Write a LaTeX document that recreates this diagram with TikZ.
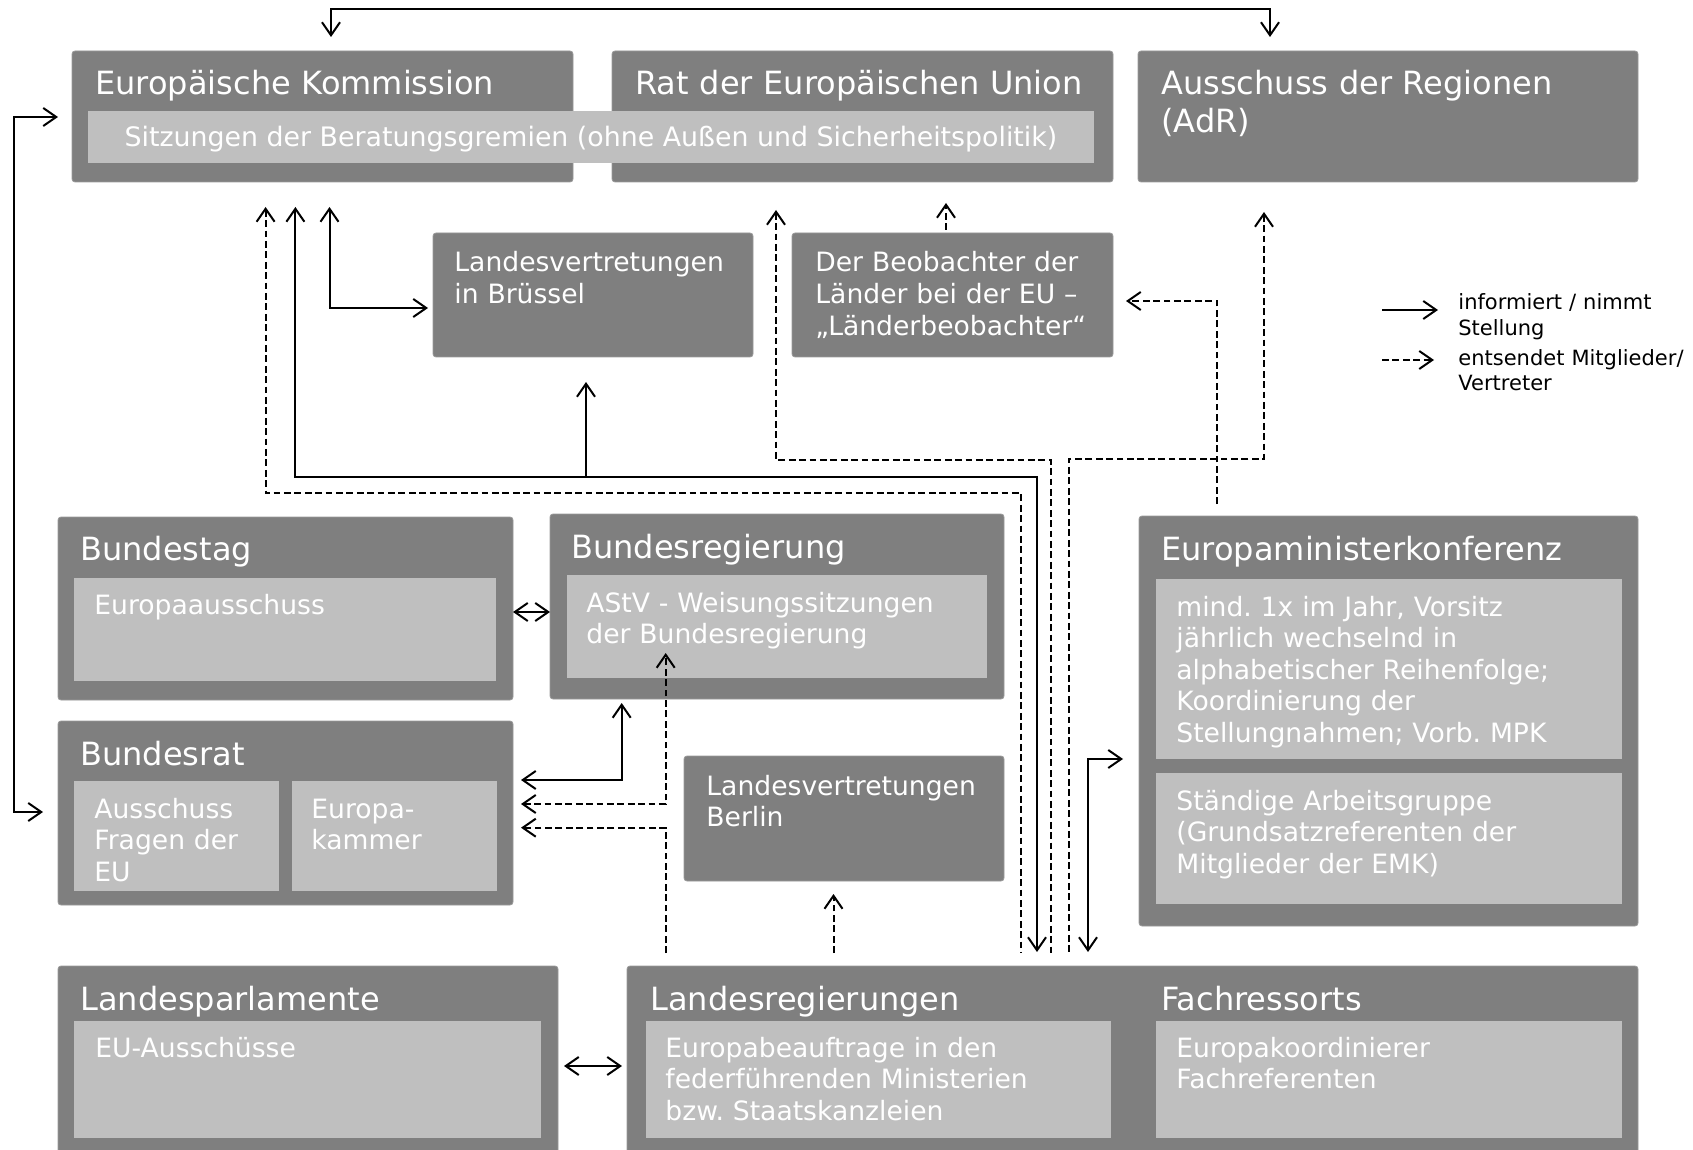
\documentclass[tikz,border=0pt]{standalone}
\usepackage{fontspec}
\setmainfont{DejaVu Sans}
\usetikzlibrary{arrows.meta}
\definecolor{boxdark}{RGB}{127,127,127}
\definecolor{boxlight}{RGB}{191,191,191}
\frenchspacing
\begin{document}
\begin{tikzpicture}[x=0.5pt,y=-0.5pt,
  dbox/.style={fill=boxdark, draw=boxdark!80!white, line width=0.4pt, rounded corners=1.5pt, anchor=north west, inner sep=0pt, outer sep=0pt},
  lbox/.style={fill=boxlight, anchor=north west, inner sep=0pt, outer sep=0pt},
  ttl/.style={anchor=base west, inner sep=0pt, text=white, align=left, text width=300pt, font=\fontsize{16}{18.9}\selectfont},
  txt/.style={anchor=base west, inner sep=0pt, text=white, align=left, text width=240pt, font=\fontsize{13.3}{15.8}\selectfont},
  lgd/.style={anchor=base west, inner sep=0pt, text=black, align=left, text width=120pt, font=\fontsize{10.5}{13}\selectfont},
  tip/.style={line width=1pt},
  one/.style={tip, -{Straight Barb[length=6.5pt,width=9pt]}},
  back/.style={tip, {Straight Barb[length=6.5pt,width=9pt]}-},
  both/.style={tip, {Straight Barb[length=6.5pt,width=9pt]}-{Straight Barb[length=6.5pt,width=9pt]}},
  dsh/.style={dash pattern=on 3.4pt off 1.8pt}
]
\useasboundingbox (0,0) rectangle (1693,1150);

% ---------- boxes ----------
\node[dbox, minimum width=250.5pt, minimum height=65.5pt] (ek) at (72,51) {};
\node[dbox, minimum width=250.5pt, minimum height=65.5pt] (rat) at (612,51) {};
\node[dbox, minimum width=250pt, minimum height=65.5pt] (adr) at (1138,51) {};
\node[lbox, minimum width=503pt, minimum height=26pt] (sitz) at (88,111) {};

\node[dbox, minimum width=160pt, minimum height=62pt] (lvb) at (433,233) {};
\node[dbox, minimum width=160.5pt, minimum height=62pt] (beob) at (792,233) {};

\node[dbox, minimum width=227.5pt, minimum height=91.5pt] (bt) at (58,517) {};
\node[lbox, minimum width=211pt, minimum height=51.5pt] (eua) at (74,578) {};
\node[dbox, minimum width=227pt, minimum height=92.5pt] (breg) at (550,514) {};
\node[lbox, minimum width=210pt, minimum height=51.5pt] (astv) at (567,575) {};

\node[dbox, minimum width=227.5pt, minimum height=92pt] (br) at (58,721) {};
\node[lbox, minimum width=102.5pt, minimum height=55pt] (afe) at (74,781) {};
\node[lbox, minimum width=102.5pt, minimum height=55pt] (ek2) at (292,781) {};

\node[dbox, minimum width=160pt, minimum height=62.5pt] (lvber) at (684,756) {};

\node[dbox, minimum width=249.5pt, minimum height=205pt] (emk) at (1139,516) {};
\node[lbox, minimum width=233pt, minimum height=90pt] (emk1) at (1156,579) {};
\node[lbox, minimum width=233pt, minimum height=65.5pt] (emk2) at (1156,773) {};

\node[dbox, minimum width=250pt, minimum height=95pt] (lp) at (58,966) {};
\node[lbox, minimum width=233.5pt, minimum height=58.5pt] (lpi) at (74,1021) {};
\node[dbox, minimum width=505.5pt, minimum height=95pt] (lr) at (627,966) {};
\node[lbox, minimum width=232.5pt, minimum height=58.5pt] (lri) at (646,1021) {};
\node[lbox, minimum width=233pt, minimum height=58.5pt] (fri) at (1156,1021) {};

% ---------- texts ----------
\node[ttl] (t1) at (95,95) {Europäische Kommission};
\node[ttl] (t2) at (635,95) {Rat der Europäischen Union};
\node[ttl] (t3) at (1161,95) {Ausschuss der Regionen\\(AdR)};
\node[anchor=base, inner sep=0pt, text=white, font=\fontsize{13.4}{15.8}\selectfont] (t4) at (591,147) {Sitzungen der Beratungsgremien (ohne Außen und Sicherheitspolitik)};
\node[txt] (t5) at (454,272) {Landesvertretungen\\in Brüssel};
\node[txt] (t6) at (815,272) {Der Beobachter der\\Länder bei der EU –\\„Länderbeobachter“};
\node[ttl] (t7) at (80,560) {Bundestag};
\node[txt] (t8) at (94,614) {Europaausschuss};
\node[ttl] (t9) at (571,558) {Bundesregierung};
\node[txt] (t10) at (586,612) {AStV - Weisungssitzungen\\der Bundesregierung};
\node[ttl] (t11) at (80,765) {Bundesrat};
\node[txt] (t12) at (94,818) {Ausschuss\\Fragen der\\EU};
\node[txt] (t13) at (311,818) {Europa-\\kammer};
\node[txt] (t14) at (706,795) {Landesvertretungen\\Berlin};
\node[ttl] (t15) at (1161,560) {Europaministerkonferenz};
\node[txt] (t16) at (1176,616) {mind. 1x im Jahr, Vorsitz\\jährlich wechselnd in\\alphabetischer Reihenfolge;\\Koordinierung der\\Stellungnahmen; Vorb. MPK};
\node[txt] (t17) at (1176,810) {Ständige Arbeitsgruppe\\(Grundsatzreferenten der\\Mitglieder der EMK)};
\node[ttl] (t18) at (80,1010) {Landesparlamente};
\node[txt] (t19) at (95,1057) {EU-Ausschüsse};
\node[ttl] (t20) at (650,1010) {Landesregierungen};
\node[txt] (t21) at (665,1057) {Europabeauftrage in den\\federführenden Ministerien\\bzw. Staatskanzleien};
\node[ttl] (t22) at (1161,1010) {Fachressorts};
\node[txt] (t23) at (1176,1057) {Europakoordinierer\\Fachreferenten};

% ---------- connectors ----------
% EK <-> AdR over the top
\draw[both] ([shift={(259,-14)}]ek.north west) -- ++(0,-28) -| ([shift={(132,-14)}]adr.north west);
% EK <-> Bundesrat on the left
\draw[both] ([shift={(-14,66)}]ek.north west) -- ++(-44.5,0) |- ([shift={(-15,91)}]br.north west);
% EK <-> LV Bruessel
\draw[both] ([shift={(257.5,25)}]ek.south west) |- ([shift={(-5,75)}]lvb.north west);
% EK <-> Landesregierungen (solid)
\draw[both] ([shift={(223.4,25)}]ek.south west) -- ++(0,270) -| ([shift={(410,-14)}]lr.north west);
\draw[one] ([shift={(153,120)}]lvb.south west) -- ([shift={(153,25)}]lvb.south west);
% Landesregierungen -> EK (dashed)
\draw[back,dsh] ([shift={(193.6,25)}]ek.south west) -- ++(0,286) -| ([shift={(394,-13)}]lr.north west);
% Landesregierungen -> Rat (dashed)
\draw[back,dsh] ([shift={(164,28)}]rat.south west) -- ++(0,250) -| ([shift={(424,-13)}]lr.north west);
% Landesregierungen -> AdR (dashed)
\draw[back,dsh] ([shift={(126,30)}]adr.south west) -- ++(0,247) -| ([shift={(442,-13)}]lr.north west);
% Beobachter -> Rat
\draw[one,dsh] ([shift={(154,-3)}]beob.north west) -- ([shift={(154,-30)}]beob.north west);
% EMK -> Beobachter
\draw[one,dsh] ([shift={(78,-12)}]emk.north west) |- ([shift={(13,68)}]beob.north east);
% EMK <-> Landesregierungen
\draw[both] ([shift={(461,-14)}]lr.north west) |- ([shift={(-16,243)}]emk.north west);
% Bundestag <-> Bundesregierung
\draw[both] ([shift={(0,95)}]bt.north east) -- ([shift={(0,98)}]breg.north west);
% Bundesregierung <-> Bundesrat
\draw[both] ([shift={(71.7,4)}]breg.south west) |- ([shift={(8,59)}]br.north east);
% Bundesrat <-> AStV (dashed)
\draw[both,dsh] ([shift={(8,83)}]br.north east) -| ([shift={(98.7,-25)}]astv.south west);
% Landesregierungen -> Bundesrat (dashed)
\draw[one,dsh] ([shift={(38.7,-13)}]lr.north west) |- ([shift={(8,106.7)}]br.north east);
% Landesregierungen -> LV Berlin (dashed)
\draw[one,dsh] ([shift={(206.5,-13)}]lr.north west) -- ([shift={(149.5,13)}]lvber.south west);
% Landesparlamente <-> Landesregierungen
\draw[both] ([shift={(6,100)}]lp.north east) -- ([shift={(-5,100)}]lr.north west);

% ---------- legend ----------
\coordinate (l1s) at (1382,310);
\coordinate (l1e) at (1438,310);
\coordinate (l2s) at (1382,360);
\coordinate (l2e) at (1434,360);
\draw[one] (l1s) -- (l1e);
\draw[one,dsh] (l2s) -- (l2e);
\node[lgd] (lg1) at (1458,310) {informiert / nimmt\\Stellung};
\node[lgd] (lg2) at (1458,365) {entsendet Mitglieder/\\Vertreter};
\end{tikzpicture}
\end{document}
